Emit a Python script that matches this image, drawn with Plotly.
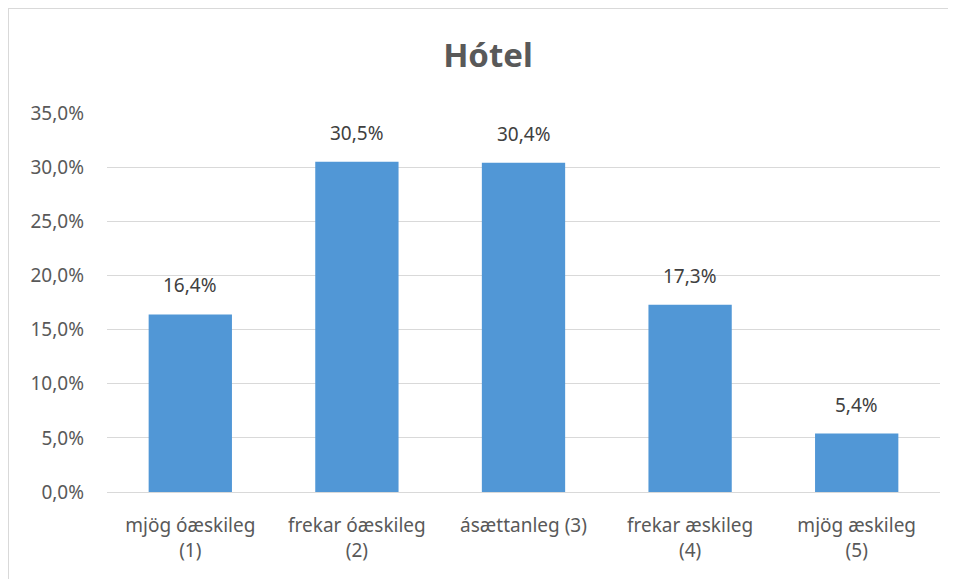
import plotly.graph_objects as go

# Données
categories = ["mjög óæskileg<br>(1)", "frekar óæskileg<br>(2)", "ásættanleg (3)",
              "frekar æskileg<br>(4)", "mjög æskileg<br>(5)"]
values = [16.4, 30.5, 30.4, 17.3, 5.4]
tick_vals = [0, 5, 10, 15, 20, 25, 30, 35]
tick_text = ["0,0%", "5,0%", "10,0%", "15,0%", "20,0%", "25,0%", "30,0%", "35,0%"]
labels = [f"{v:.1f}%".replace(".", ",") for v in values]

# la page html ajoute une marge de 8px autour de la figure
OFF = 8
W, H = 956 - OFF, 579 - OFF
L, T = 107 - OFF, 113 - OFF   # zone de tracé : x 107..940, y 113..492 dans la page
R = 956 - 940 - OFF + OFF      # = 16
B = 579 - 492 - OFF + OFF      # = 87
pw = W - L - R
ph = H - T - B

fig = go.Figure()
fig.add_trace(go.Bar(
    x=categories, y=values,
    marker=dict(color="#5197d6", line=dict(width=0)),
    width=0.5,
))

# étiquettes de valeur au-dessus des barres
for c, v, lab in zip(categories, values, labels):
    fig.add_annotation(x=c, y=v, text=lab, showarrow=False,
                       yanchor="bottom", yshift=14,
                       font=dict(size=19, color="#404040"))

# cadre gris clair autour du graphique
fig.add_shape(type="rect", xref="paper", yref="paper",
              x0=-L / pw, x1=(W + 30 - L) / pw,
              y0=-(B + 30) / ph, y1=(T + ph) / ph,
              line=dict(color="#d9d9d9", width=2), fillcolor="rgba(0,0,0,0)")

fig.update_layout(
    width=W, height=H,
    margin=dict(l=L, r=R, t=T, b=B),
    paper_bgcolor="white", plot_bgcolor="white",
    font=dict(family="Noto Sans, Open Sans, sans-serif", color="#595959", size=19),
    title=dict(text="<b>Hótel</b>", x=(488 - OFF) / W, xanchor="center",
               y=1 - (55 - OFF) / H, yanchor="middle",
               font=dict(size=33, color="#595959")),
    showlegend=False,
)
fig.update_yaxes(range=[0, 35], tickvals=tick_vals, ticktext=tick_text,
                 showgrid=True, gridcolor="#d9d9d9", gridwidth=1,
                 zeroline=True, zerolinecolor="#d9d9d9", zerolinewidth=1,
                 showline=False, ticks="", ticklabelstandoff=22,
                 tickfont=dict(size=19, color="#595959"))
fig.update_xaxes(showline=False, ticks="", tickfont=dict(size=19, color="#595959"),
                 ticklabelstandoff=20)

fig.write_html("out.html")
